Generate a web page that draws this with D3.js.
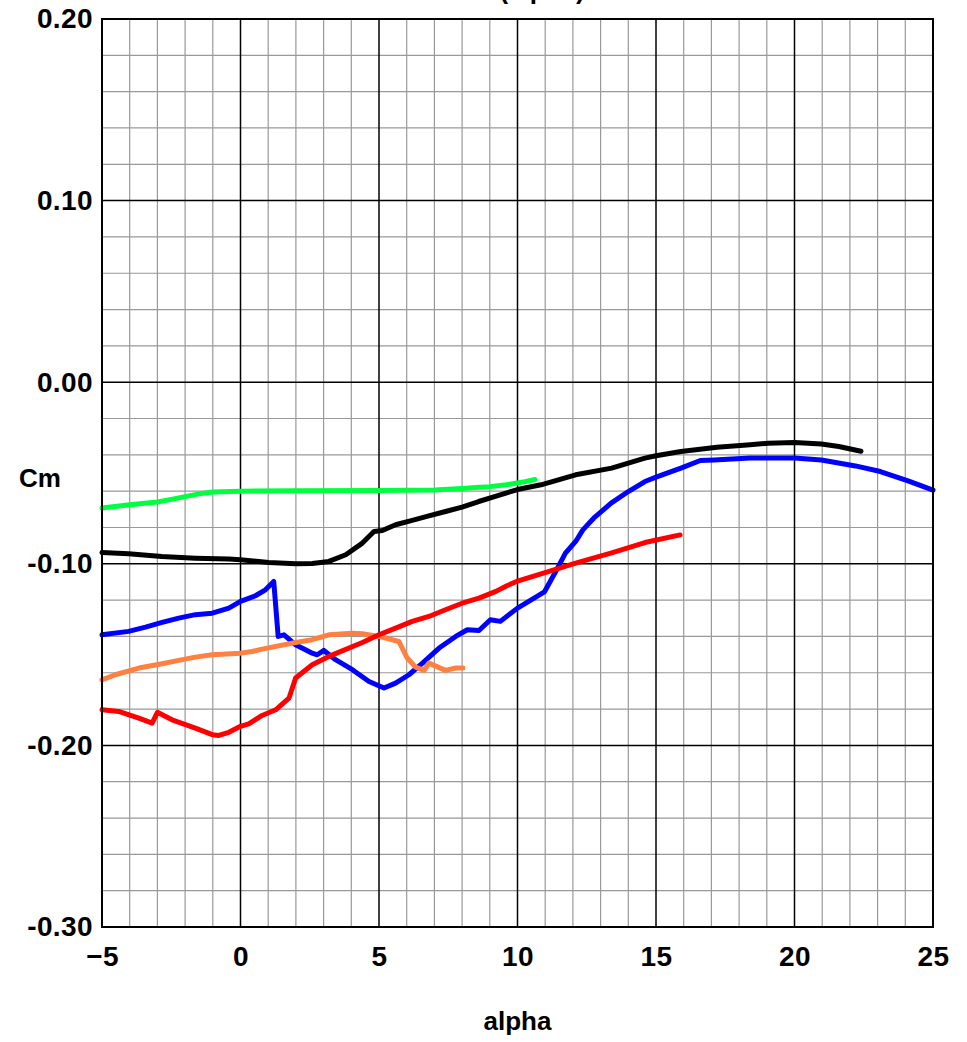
<!DOCTYPE html>
<html>
<head>
<meta charset="utf-8">
<script src="https://cdn.jsdelivr.net/npm/d3@7"></script>
<style>
  html, body { margin: 0; padding: 0; background: #fff; }
  text { font-family: "Liberation Sans", Arial, sans-serif; font-weight: bold; }
</style>
</head>
<body>
<svg id="chart" width="967" height="1042"></svg>
<script>
const xTicks = [-5, 0, 5, 10, 15, 20, 25];
const yTicks = [0.2, 0.1, 0.0, -0.1, -0.2, -0.3];
const yTickLabels = ["0.20", "0.10", "0.00", "-0.10", "-0.20", "-0.30"];

const greenAlpha = [-5, -4, -3, -2.5, -2, -1.5, -1, 0, 2, 5, 6, 7, 8, 8.5, 9, 9.6, 10.2, 10.63];
const greenCm = [-0.0693, -0.0675, -0.066, -0.0645, -0.063, -0.0615, -0.0605, -0.0600, -0.0598, -0.0596, -0.0595, -0.0593, -0.0585, -0.058, -0.0575, -0.0565, -0.055, -0.0536];

const blackAlpha = [-5, -4.04, -2.84, -1.63, -0.42, 0, 1.02, 1.99, 2.59, 3.19, 3.8, 4.4, 4.82, 5.12, 5.6, 6.2, 6.8, 7.4, 8.0, 8.6, 9.2, 10, 10.85, 12.1, 13.4, 14.6, 15, 15.9, 17.2, 18.4, 19.05, 20, 20.97, 21.6, 22.4];
const blackCm = [-0.0938, -0.0945, -0.096, -0.0969, -0.0974, -0.0978, -0.0993, -0.1, -0.0998, -0.0987, -0.095, -0.0886, -0.0822, -0.0817, -0.0785, -0.0761, -0.0736, -0.0712, -0.0688, -0.0657, -0.0629, -0.0591, -0.0565, -0.051, -0.0473, -0.0418, -0.0405, -0.0382, -0.0358, -0.0345, -0.0336, -0.0332, -0.034, -0.0354, -0.038];

const blueAlpha = [-5, -4.04, -3.43, -2.83, -2.23, -1.63, -1.02, -0.42, 0, 0.54, 0.9, 1.2, 1.36, 1.57, 1.99, 2.59, 2.77, 3.01, 3.43, 4.04, 4.64, 5.18, 5.6, 6.08, 6.57, 7.17, 7.77, 8.19, 8.61, 9.02, 9.38, 10, 10.6, 10.97, 11.35, 11.73, 12.1, 12.36, 12.75, 13.38, 14.0, 14.6, 15, 15.9, 16.6, 17.1, 18.4, 20, 20.97, 22.2, 23.1, 24.1, 25];
const blueCm = [-0.1391, -0.1372, -0.1349, -0.1323, -0.1299, -0.128, -0.1272, -0.1244, -0.1207, -0.1176, -0.1143, -0.1097, -0.14, -0.1391, -0.1446, -0.1492, -0.1501, -0.1477, -0.1528, -0.1583, -0.1648, -0.1684, -0.1657, -0.1611, -0.1547, -0.1464, -0.14, -0.1363, -0.1367, -0.1308, -0.1317, -0.1244, -0.1189, -0.1155, -0.1051, -0.0941, -0.0877, -0.0813, -0.0749, -0.0666, -0.0602, -0.0547, -0.0523, -0.0473, -0.0431, -0.0428, -0.0418, -0.0418, -0.0428, -0.0461, -0.0492, -0.0543, -0.0594];

const redAlpha = [-5, -4.4, -3.67, -3.19, -3.0, -2.47, -1.63, -1.02, -0.78, -0.42, 0, 0.3, 0.78, 1.27, 1.75, 1.99, 2.59, 3.19, 4.4, 5.0, 5.6, 6.2, 6.8, 7.4, 8.0, 8.61, 9.22, 9.6, 10.0, 10.85, 12.1, 13.37, 14.6, 15.87];
const redCm = [-0.1804, -0.1813, -0.185, -0.1877, -0.1818, -0.1859, -0.1905, -0.1941, -0.1945, -0.1928, -0.1895, -0.1881, -0.1835, -0.1804, -0.174, -0.1629, -0.1556, -0.151, -0.1433, -0.1391, -0.1354, -0.1317, -0.129, -0.1253, -0.1217, -0.1189, -0.1152, -0.1122, -0.1095, -0.1055, -0.0996, -0.0941, -0.0883, -0.0841];

const orangeAlpha = [-5, -4.52, -3.67, -2.83, -2.23, -1.63, -1.02, 0, 0.42, 0.78, 1.99, 2.59, 3.19, 4.04, 4.4, 5, 5.72, 6.02, 6.32, 6.63, 6.8, 7.4, 7.77, 8.03];
const orangeCm = [-0.1639, -0.1611, -0.1574, -0.155, -0.1532, -0.1514, -0.1501, -0.1492, -0.1483, -0.147, -0.1433, -0.1418, -0.1391, -0.1382, -0.1385, -0.14, -0.1428, -0.1519, -0.1569, -0.1587, -0.1547, -0.1587, -0.1574, -0.1574];

const series = [
  {a: greenAlpha, c: greenCm, color: "#00ff40"},
  {a: blackAlpha, c: blackCm, color: "#000000"},
  {a: blueAlpha, c: blueCm, color: "#0000ff"},
  {a: orangeAlpha, c: orangeCm, color: "#ff8040"},
  {a: redAlpha, c: redCm, color: "#ff0000"}
];

const L = 102, R = 933, T = 19, B = 927;
const FS = 28, LS = "0.4px";
const svg = d3.select("#chart");
const x = d3.scaleLinear().domain([-5, 25]).range([L, R]);
const y = d3.scaleLinear().domain([-0.3, 0.2]).range([B, T]);

// minor grid
const xMinor = d3.range(-5, 25.01, 1).filter(v => v % 5 !== 0);
const yMinor = d3.range(-0.3, 0.2001, 0.02).map(v => +v.toFixed(2)).filter(v => Math.abs(Math.round(v * 10) - v * 10) > 1e-6);
const g = svg.append("g");
g.selectAll(".xm").data(xMinor).enter().append("line")
  .attr("x1", d => x(d)).attr("x2", d => x(d)).attr("y1", T).attr("y2", B)
  .attr("stroke", "#999").attr("stroke-width", 1.2);
g.selectAll(".ym").data(yMinor).enter().append("line")
  .attr("y1", d => y(d)).attr("y2", d => y(d)).attr("x1", L).attr("x2", R)
  .attr("stroke", "#999").attr("stroke-width", 1.2);
// major grid
g.selectAll(".xM").data(xTicks).enter().append("line")
  .attr("x1", d => x(d)).attr("x2", d => x(d)).attr("y1", T).attr("y2", B)
  .attr("stroke", "#000").attr("stroke-width", 1.5);
g.selectAll(".yM").data(yTicks).enter().append("line")
  .attr("y1", d => y(d)).attr("y2", d => y(d)).attr("x1", L).attr("x2", R)
  .attr("stroke", "#000").attr("stroke-width", 1.5);

// curves
const line = d3.line().x(d => x(d[0])).y(d => y(d[1]));
series.forEach(s => {
  const pts = s.a.map((v, i) => [v, s.c[i]]);
  svg.append("path").attr("d", line(pts)).attr("fill", "none")
    .attr("stroke", s.color).attr("stroke-width", 5)
    .attr("stroke-linejoin", "round").attr("stroke-linecap", "round");
});

// frame
svg.append("rect").attr("x", L).attr("y", T).attr("width", R - L).attr("height", B - T)
  .attr("fill", "none").attr("stroke", "#000").attr("stroke-width", 2);

// axes labels via d3 axes (no lines)
const xAxis = svg.append("g").attr("transform", `translate(0,${B})`)
  .call(d3.axisBottom(x).tickValues(xTicks).tickSize(0).tickPadding(19).tickFormat(d3.format("d")));
xAxis.select(".domain").remove();
xAxis.selectAll("text").attr("font-size", FS).attr("letter-spacing", LS).attr("font-family", "Liberation Sans, Arial, sans-serif").attr("font-weight", "bold").attr("fill", "#000");

const yAxis = svg.append("g").attr("transform", `translate(${L},0)`)
  .call(d3.axisLeft(y).tickValues(yTicks).tickSize(0).tickPadding(9).tickFormat((d, i) => yTickLabels[i]));
yAxis.select(".domain").remove();
yAxis.selectAll("text").attr("font-size", FS).attr("letter-spacing", LS).attr("font-family", "Liberation Sans, Arial, sans-serif").attr("font-weight", "bold").attr("fill", "#000");

svg.append("text").attr("x", 40).attr("y", 487).attr("text-anchor", "middle")
  .attr("font-size", 26).text("Cm");
svg.append("text").attr("x", (L + R) / 2).attr("y", 1030).attr("text-anchor", "middle")
  .attr("font-size", 26).text("alpha");
svg.append("text").attr("x", (L + R) / 2).attr("y", -1).attr("text-anchor", "middle")
  .attr("font-size", 26).text("Cm (alpha)");
</script>
</body>
</html>
